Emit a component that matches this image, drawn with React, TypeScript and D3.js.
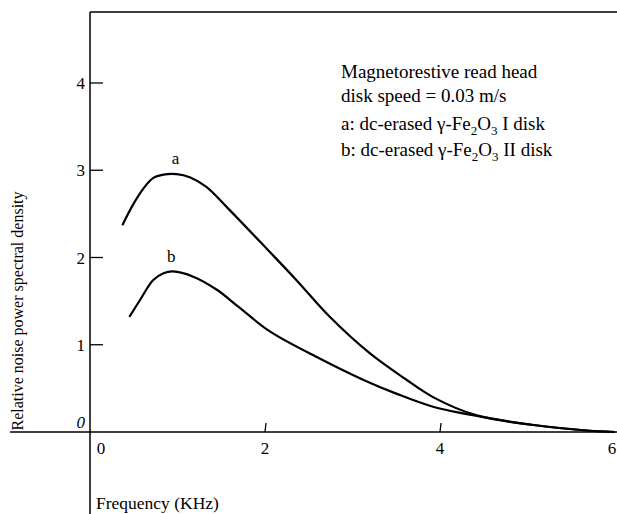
import React from "react";
import * as d3 from "d3";

// Frequency (kHz) and relative noise PSD for the two dc-erased disks
const freqA = [0.37, 0.5, 0.61, 0.72, 0.84, 0.99, 1.14, 1.33, 1.58, 2.02, 2.36, 2.74, 3.2, 3.6, 3.92, 4.42, 5.07, 5.64, 6.0];
const psdA = [2.37, 2.62, 2.79, 2.91, 2.95, 2.955, 2.92, 2.81, 2.56, 2.1, 1.74, 1.32, 0.9, 0.61, 0.4, 0.19, 0.08, 0.02, 0.0];
const freqB = [0.45, 0.57, 0.72, 0.84, 0.95, 1.18, 1.45, 1.69, 2.06, 2.63, 3.12, 3.5, 3.92, 4.5, 5.07, 5.64, 6.0];
const psdB = [1.32, 1.51, 1.74, 1.82, 1.84, 1.78, 1.63, 1.44, 1.15, 0.84, 0.6, 0.44, 0.29, 0.17, 0.08, 0.02, 0.0];

const xTicks = [0, 2, 4, 6];
const yTicks = [0, 1, 2, 3, 4];

const W = 617;
const H = 514;
const FONT = "'Liberation Serif', 'DejaVu Serif', serif";

export default function App() {
  const x = d3.scaleLinear().domain([0, 6]).range([90, 615]);
  const y = d3.scaleLinear().domain([0, 4]).range([432, 83]);

  const line = d3
    .line<[number, number]>()
    .x((d) => x(d[0]))
    .y((d) => y(d[1]))
    .curve(d3.curveCatmullRom.alpha(0.5));

  const ptsA = freqA.map((f, i) => [f, psdA[i]] as [number, number]);
  const ptsB = freqB.map((f, i) => [f, psdB[i]] as [number, number]);

  const peakA = ptsA.reduce((m, p) => (p[1] > m[1] ? p : m));
  const peakB = ptsB.reduce((m, p) => (p[1] > m[1] ? p : m));

  return (
    <svg
      width={W}
      height={H}
      style={{ position: "absolute", left: 0, top: 0, background: "#fff" }}
      fontFamily={FONT}
    >
      {/* frame: top rule, vertical axis, horizontal axis */}
      <line x1={x(0)} x2={W} y1={12} y2={12} stroke="#000" strokeWidth={1.5} />
      <line x1={x(0)} x2={x(0)} y1={12} y2={H} stroke="#000" strokeWidth={1.5} />
      <line x1={10} x2={W} y1={y(0)} y2={y(0)} stroke="#000" strokeWidth={1.5} />

      {/* y ticks */}
      {yTicks.map((t) => (
        <g key={"y" + t}>
          {t > 0 && (
            <line x1={x(0)} x2={x(0) + 13} y1={y(t)} y2={y(t)} stroke="#000" strokeWidth={1.3} />
          )}
          <text
            x={x(0) - 5}
            y={t === 0 ? y(t) - 4 : y(t) + 6}
            fontSize={17}
            textAnchor="end"
            fontStyle={t === 0 ? "italic" : "normal"}
          >
            {t}
          </text>
        </g>
      ))}

      {/* x ticks */}
      {xTicks.map((t) => (
        <g key={"x" + t}>
          {t > 0 && t < 6 && (
            <line x1={x(t)} x2={x(t) + 1} y1={y(0)} y2={y(0) - 9} stroke="#000" strokeWidth={1.3} />
          )}
          <text
            x={t === 0 ? x(0) + 11 : t === 6 ? W - 5 : x(t)}
            y={y(0) + 22}
            fontSize={17}
            textAnchor="middle"
          >
            {t}
          </text>
        </g>
      ))}

      {/* curves */}
      <path d={line(ptsA) ?? ""} fill="none" stroke="#000" strokeWidth={2.2} />
      <path d={line(ptsB) ?? ""} fill="none" stroke="#000" strokeWidth={2.2} />
      <text x={x(peakA[0]) - 1} y={y(peakA[1]) - 10} fontSize={17} textAnchor="middle">
        a
      </text>
      <text x={x(peakB[0]) - 2} y={y(peakB[1]) - 9} fontSize={17} textAnchor="middle">
        b
      </text>

      {/* annotation */}
      <g fontSize={19}>
        <text x={341} y={78}>Magnetorestive read head</text>
        <text x={341} y={102}>disk speed = 0.03 m/s</text>
        <text x={341} y={130}>
          a: dc-erased γ-Fe
          <tspan dy={5} fontSize={13}>2</tspan>
          <tspan dy={-5}>O</tspan>
          <tspan dy={5} fontSize={13}>3</tspan>
          <tspan dy={-5}> I disk</tspan>
        </text>
        <text x={341} y={156}>
          b: dc-erased γ-Fe
          <tspan dy={5} fontSize={13}>2</tspan>
          <tspan dy={-5}>O</tspan>
          <tspan dy={5} fontSize={13}>3</tspan>
          <tspan dy={-5}> II disk</tspan>
        </text>
      </g>

      {/* axis titles */}
      <text
        transform={`translate(23, 311) rotate(-90)`}
        fontSize={16}
        textAnchor="middle"
      >
        Relative noise power spectral density
      </text>
      <text x={x(0) + 6} y={509} fontSize={17.5}>
        Frequency (KHz)
      </text>
    </svg>
  );
}
